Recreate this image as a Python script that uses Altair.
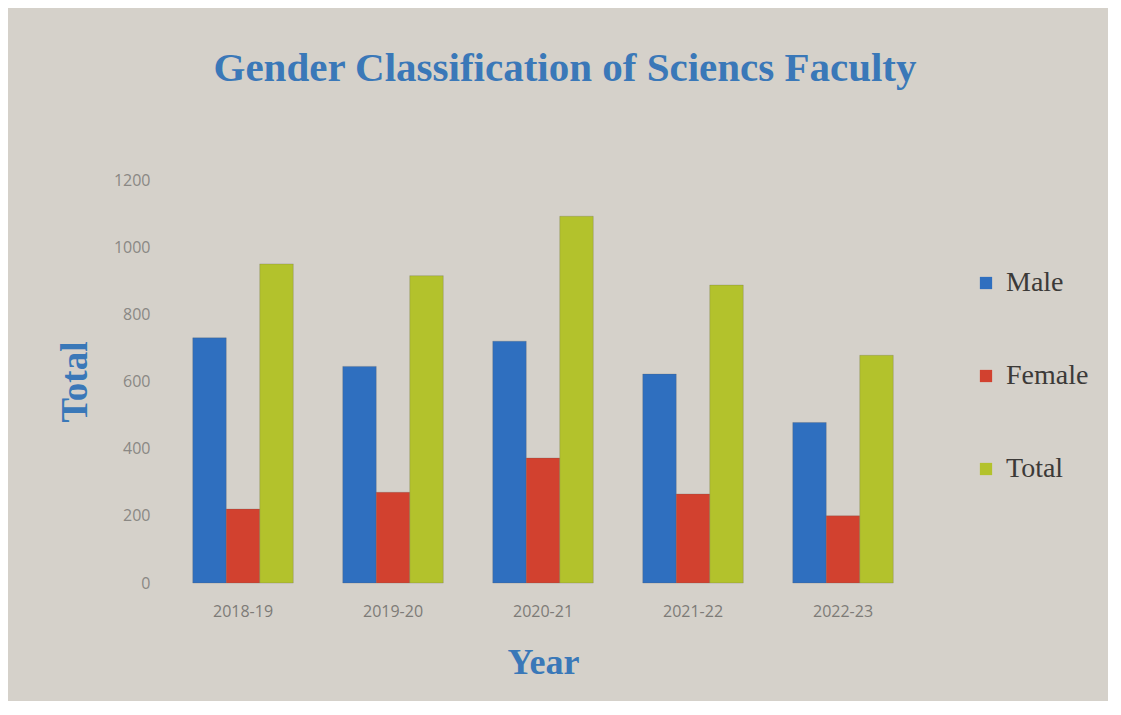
import altair as alt
import pandas as pd

years = ["2018-19", "2019-20", "2020-21", "2021-22", "2022-23"]
series = ["Male", "Female", "Total"]
male = [730, 645, 720, 622, 478]
female = [220, 270, 372, 265, 200]
total = [950, 915, 1092, 887, 678]
y_ticks = [0, 200, 400, 600, 800, 1000, 1200]
colors = ["#2f6fbf", "#d2412f", "#b3c22c"]

rows = []
for i, yr in enumerate(years):
    for s, vals in zip(series, [male, female, total]):
        rows.append({"Year": yr, "Series": s, "Value": vals[i]})
df = pd.DataFrame(rows)

blue = "#3a78b8"
chart = alt.Chart(df).mark_bar(strokeWidth=0.6, stroke="#555555", strokeOpacity=0.4).encode(
    x=alt.X("Year:N", sort=years, title="Year",
            scale=alt.Scale(paddingInner=0.33, paddingOuter=0.165),
            axis=alt.Axis(labelAngle=0, labelFont="Open Sans", labelFontSize=16,
                          labelColor="#7d7b77", labelPadding=20, domain=False, ticks=False,
                          titleFont="Liberation Serif", titleFontSize=36, titleFontWeight="bold",
                          titleColor=blue, titlePadding=26)),
    xOffset=alt.XOffset("Series:N", sort=series, scale=alt.Scale(paddingInner=0, paddingOuter=0)),
    y=alt.Y("Value:Q", title="Total",
            scale=alt.Scale(domain=[0, 1200], nice=False),
            axis=alt.Axis(values=y_ticks, format="d", labelFont="Open Sans", labelFontSize=16,
                          labelColor="#8a8884", labelPadding=18, domain=False, ticks=False, grid=False,
                          titleFont="Liberation Serif", titleFontSize=37, titleFontWeight="bold",
                          titleColor=blue, titlePadding=19)),
    color=alt.Color("Series:N", sort=series, title=None,
                    scale=alt.Scale(domain=series, range=colors),
                    legend=alt.Legend(orient="none", legendX=804, legendY=89,
                                      symbolType="square", symbolSize=150, symbolStrokeWidth=0,
                                      labelFont="Liberation Serif", labelFontSize=28,
                                      labelColor="#3c3a38", rowPadding=65, labelOffset=6)),
).properties(
    width=750, height=403,
    padding={"left": 160, "top": 172, "right": 190, "bottom": 118},
    autosize=alt.AutoSizeParams(type="none"),
    background="#d5d1ca",
    title=alt.Title("Gender Classification of Sciencs Faculty", font="Liberation Serif",
                    fontSize=41, fontWeight="bold", color=blue, anchor="middle", offset=82, dx=22),
).configure_view(stroke=None)

chart.save("out.html", embed_options={"renderer": "svg", "actions": False})
